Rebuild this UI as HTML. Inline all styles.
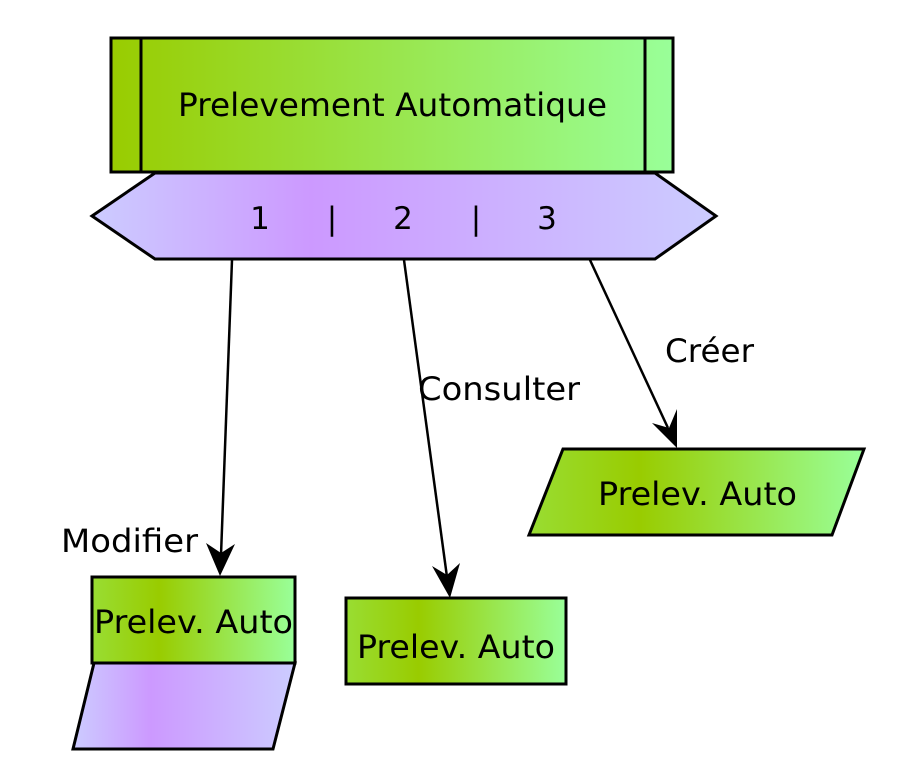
<!DOCTYPE html>
<html><head><meta charset="utf-8"><style>
html,body{margin:0;padding:0;background:#fff;}
svg{display:block;}
text{font-family:"DejaVu Sans","Liberation Sans",sans-serif;fill:#000;}
</style></head><body>
<svg width="906" height="776" viewBox="0 0 906 776" xmlns="http://www.w3.org/2000/svg">
<defs>
<linearGradient id="gTop" x1="0" y1="0" x2="1" y2="0">
<stop offset="0" stop-color="#99cc00"/><stop offset="1" stop-color="#99ff99"/>
</linearGradient>
<linearGradient id="gHex" x1="0" y1="0" x2="1" y2="0">
<stop offset="0" stop-color="#ccccff"/><stop offset="0.35" stop-color="#cc99ff"/><stop offset="1" stop-color="#ccccff"/>
</linearGradient>
<linearGradient id="gBox" x1="0" y1="0" x2="1" y2="0">
<stop offset="0" stop-color="#99dd33"/><stop offset="0.33" stop-color="#99cc00"/><stop offset="1" stop-color="#99ff99"/>
</linearGradient>
</defs>
<polygon points="92,216 155,173 655,173 716,216 655,259 155,259" fill="url(#gHex)" stroke="#000" stroke-width="3"/>
<rect x="111" y="38" width="562" height="134" fill="url(#gTop)" stroke="#000" stroke-width="3"/>
<line x1="141" y1="38" x2="141" y2="172" stroke="#000" stroke-width="3"/>
<line x1="645" y1="38" x2="645" y2="172" stroke="#000" stroke-width="3"/>
<text x="178" y="116" font-size="32" textLength="429" lengthAdjust="spacingAndGlyphs">Prelevement Automatique</text>
<text x="260" y="229" font-size="31" text-anchor="middle">1</text>
<text x="332" y="229" font-size="31" text-anchor="middle">|</text>
<text x="403" y="229" font-size="31" text-anchor="middle">2</text>
<text x="476" y="229" font-size="31" text-anchor="middle">|</text>
<text x="547" y="229" font-size="31" text-anchor="middle">3</text>

<line x1="232" y1="260" x2="221" y2="555" stroke="#000" stroke-width="2.5"/>
<polygon points="220,576 206,543 221,553 235,544" fill="#000"/>
<line x1="404" y1="260" x2="447" y2="577" stroke="#000" stroke-width="2.5"/>
<polygon points="450,598 432,566 447,575 460,563" fill="#000"/>
<line x1="590" y1="260" x2="668" y2="428" stroke="#000" stroke-width="2.5"/>
<polygon points="677,448 652,423 669,428 677,409" fill="#000"/>

<text x="61" y="552" font-size="32" textLength="137" lengthAdjust="spacingAndGlyphs">Modifier</text>
<text x="418" y="400" font-size="32" textLength="162" lengthAdjust="spacingAndGlyphs">Consulter</text>
<text x="665" y="362" font-size="32" textLength="89" lengthAdjust="spacingAndGlyphs">Créer</text>

<polygon points="94,663 295,663 273,749 73,749" fill="url(#gHex)" stroke="#000" stroke-width="3"/>
<rect x="92" y="577" width="203" height="86" fill="url(#gBox)" stroke="#000" stroke-width="3"/>
<text x="94" y="633" font-size="32" textLength="199" lengthAdjust="spacingAndGlyphs">Prelev. Auto</text>

<rect x="346" y="598" width="220" height="86" fill="url(#gBox)" stroke="#000" stroke-width="3"/>
<text x="357" y="658" font-size="32" textLength="198" lengthAdjust="spacingAndGlyphs">Prelev. Auto</text>

<polygon points="563,449 864,449 832,535 529,535" fill="url(#gBox)" stroke="#000" stroke-width="3"/>
<text x="598" y="505" font-size="32" textLength="199" lengthAdjust="spacingAndGlyphs">Prelev. Auto</text>
</svg>
</body></html>
